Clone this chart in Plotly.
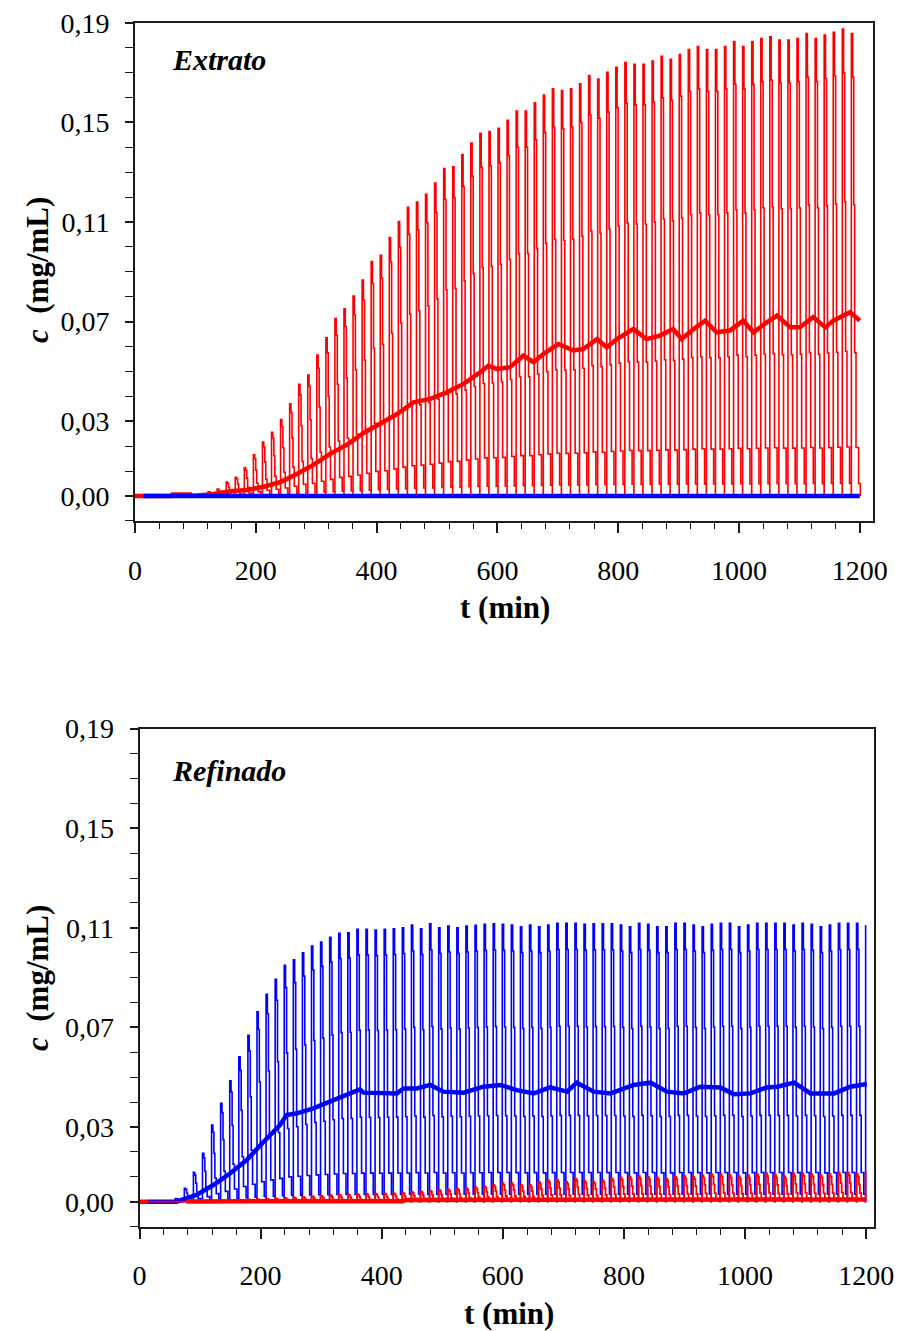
import plotly.graph_objects as go

# ---------------------------------------------------------------------------
# SMB outlet concentration histories (extract / raffinate)
# ---------------------------------------------------------------------------
W, H = 897, 1331

switch_period = 15.0          # min, port switching interval
t_end = 1200.0                # min

# Concentration profile during one switching interval (fraction of the peak)
tooth_offset = [0.0, 2.2, 3.9, 5.5, 7.7, 12.0, 14.9]
tooth_fraction = [1.0, 0.906, 0.63, 0.31, 0.105, 0.027, 0.0]

# --- Extrato: more retained component (red), peak of each interval --------
extrato_first_rise = 106.0
extrato_red_peaks = [
    0.0009, 0.0017, 0.0028, 0.0056, 0.0075, 0.0114, 0.0165, 0.0217, 0.0256,
    0.0307, 0.0370, 0.0448, 0.0486, 0.0566, 0.0635, 0.0712, 0.0751, 0.0803,
    0.0867, 0.0941, 0.0966, 0.1037, 0.1102, 0.1159, 0.1180, 0.1211, 0.1256,
    0.1314, 0.1322, 0.1371, 0.1417, 0.1456, 0.1463, 0.1476, 0.1508, 0.1545,
    0.1545, 0.1578, 0.1610, 0.1635, 0.1628, 0.1635, 0.1655, 0.1688, 0.1674,
    0.1701, 0.1721, 0.1740, 0.1733, 0.1733, 0.1746, 0.1765, 0.1753, 0.1772,
    0.1792, 0.1804, 0.1792, 0.1792, 0.1804, 0.1824, 0.1804, 0.1824, 0.1836,
    0.1843, 0.1830, 0.1830, 0.1836, 0.1856, 0.1836, 0.1850, 0.1861, 0.1875,
    0.1856,
]
# cycle-averaged extract concentration (red)
extrato_mean_t = [
    0, 14, 60, 62, 92, 94, 102, 130, 158, 185, 213, 240, 268, 296, 323, 351,
    378, 406, 434, 461, 489, 516, 544, 572, 585, 599, 621, 643, 660, 676, 701,
    726, 742, 765, 781, 798, 825, 847, 869, 891, 905, 925, 944, 963, 985,
    1007, 1024, 1046, 1063, 1085, 1101, 1123, 1143, 1156, 1184, 1200,
]
extrato_mean_c = [
    0.0, 0.0, 0.0, 0.0006, 0.0006, 0.0, 0.0001, 0.0008, 0.0019, 0.0024,
    0.0037, 0.0055, 0.0088, 0.0126, 0.0169, 0.0206, 0.0252, 0.0289, 0.0329,
    0.0376, 0.0390, 0.0416, 0.0450, 0.0497, 0.0523, 0.0510, 0.0517, 0.0564,
    0.0537, 0.0570, 0.0610, 0.0584, 0.0590, 0.0630, 0.0597, 0.0630, 0.0670,
    0.0630, 0.0644, 0.0670, 0.0630, 0.0670, 0.0704, 0.0657, 0.0664, 0.0704,
    0.0657, 0.0697, 0.0724, 0.0677, 0.0677, 0.0718, 0.0677, 0.0704, 0.0738,
    0.0704,
]
# less retained component in the extract (blue)
extrato_blue_t = [14, 1200]
extrato_blue_c = [0.0, 0.0]

# --- Refinado: less retained component (blue) ------------------------------
refinado_first_rise = 59.0
refinado_blue_peaks = [
    0.0013, 0.0054, 0.0118, 0.0194, 0.0308, 0.0395, 0.0486, 0.0582, 0.0668,
    0.0763, 0.0833, 0.0893, 0.0949, 0.0971, 0.1000, 0.1027, 0.1043, 0.1062,
    0.1078, 0.1080, 0.1094, 0.1094, 0.1091, 0.1094, 0.1096, 0.1100, 0.1111,
    0.1096, 0.1116, 0.1100, 0.1107, 0.1100, 0.1107, 0.1110, 0.1114, 0.1116,
    0.1114, 0.1111, 0.1104, 0.1111, 0.1104, 0.1111, 0.1118, 0.1118, 0.1118,
    0.1114, 0.1116, 0.1116, 0.1116, 0.1111, 0.1104, 0.1118, 0.1114, 0.1104,
    0.1104, 0.1118, 0.1118, 0.1111, 0.1104, 0.1114, 0.1118, 0.1118, 0.1104,
    0.1111, 0.1118, 0.1118, 0.1118, 0.1118, 0.1111, 0.1118, 0.1114, 0.1104,
    0.1111, 0.1118, 0.1118, 0.1118, 0.1111,
]
refinado_mean_t = [
    14, 61, 94, 122, 150, 177, 205, 232, 243, 260, 287, 315, 342, 364, 370,
    397, 425, 436, 458, 480, 502, 535, 568, 596, 623, 651, 678, 706, 722, 750,
    778, 816, 844, 871, 899, 926, 959, 981, 1009, 1036, 1053, 1081, 1108,
    1147, 1174, 1201,
]
refinado_mean_c = [
    0.0, 0.0, 0.0027, 0.0067, 0.0114, 0.0167, 0.0241, 0.0308, 0.0348, 0.0355,
    0.0375, 0.0402, 0.0431, 0.0451, 0.0438, 0.0435, 0.0435, 0.0455, 0.0455,
    0.0469, 0.0442, 0.0438, 0.0462, 0.0469, 0.0448, 0.0435, 0.0459, 0.0442,
    0.0478, 0.0442, 0.0435, 0.0469, 0.0478, 0.0442, 0.0435, 0.0462, 0.0459,
    0.0432, 0.0435, 0.0459, 0.0462, 0.0478, 0.0435, 0.0435, 0.0462, 0.0473,
]
# more retained component leaking into the raffinate (red)
refinado_red_peaks = [
    0.0, 0.0, 0.0002, 0.0003, 0.0004, 0.0005, 0.0006, 0.0008, 0.0009, 0.0010,
    0.0012, 0.0013, 0.0015, 0.0017, 0.0019, 0.0022, 0.0024, 0.0027, 0.0028,
    0.0029, 0.0030, 0.0031, 0.0032, 0.0033, 0.0033, 0.0036, 0.0039, 0.0041,
    0.0044, 0.0047, 0.0049, 0.0052, 0.0054, 0.0058, 0.0062, 0.0067, 0.0074,
    0.0074, 0.0067, 0.0067, 0.0080, 0.0087, 0.0087, 0.0080, 0.0094, 0.0084,
    0.0080, 0.0087, 0.0094, 0.0098, 0.0100, 0.0103, 0.0100, 0.0098, 0.0094,
    0.0100, 0.0103, 0.0100, 0.0107, 0.0111, 0.0111, 0.0107, 0.0103, 0.0107,
    0.0111, 0.0114, 0.0107, 0.0103, 0.0114, 0.0114, 0.0111, 0.0107, 0.0111,
    0.0118, 0.0118, 0.0111, 0.0124,
]
refinado_red_base_t = [0, 14, None, 77, 435, 440, 1200]
refinado_red_base_c = [0.0, 0.0, None, 0.0001, 0.0002, 0.0007, 0.0009]

# --- axes ------------------------------------------------------------------
x_tick_vals = [0, 200, 400, 600, 800, 1000, 1200]
x_minor_vals = [t for t in range(40, 1201, 40) if t % 200]
y_tick_vals = [0.00, 0.03, 0.07, 0.11, 0.15, 0.19]
y_tick_text = ["0,00", "0,03", "0,07", "0,11", "0,15", "0,19"]
y_minor_vals = [round(-0.01 + 0.01 * i, 2) for i in range(21)]
y_minor_vals = [v for v in y_minor_vals if v not in y_tick_vals]

RED = "#FF0000"
BLUE = "#0000FF"
AXC = "#1a1a1a"
FONT = "Times New Roman, Liberation Serif, serif"


def switching_history(first_rise, peaks):
    """Concentration vs time, one tooth per switching interval."""
    t, c = [0.0], [0.0]
    for k, peak in enumerate(peaks):
        t0 = first_rise + k * switch_period
        for off, frac in zip(tooth_offset, tooth_fraction):
            tt = t0 + off
            if tt > t_end + 1:
                break
            t.append(tt)
            c.append(peak * frac)
    return t, c


def px(x):
    return x / W


def py(y):
    return 1 - y / H


fig = go.Figure()

# top panel: Extrato
t, c = switching_history(extrato_first_rise, extrato_red_peaks)
fig.add_trace(go.Scatter(x=t, y=c, mode="lines", line=dict(color=RED, width=1.6, shape="hv"),
                         xaxis="x", yaxis="y", showlegend=False))
fig.add_trace(go.Scatter(x=extrato_mean_t, y=extrato_mean_c, mode="lines",
                         line=dict(color=RED, width=4.5), xaxis="x", yaxis="y", showlegend=False))
fig.add_trace(go.Scatter(x=extrato_blue_t, y=extrato_blue_c, mode="lines",
                         line=dict(color=BLUE, width=4.5), xaxis="x", yaxis="y", showlegend=False))

# bottom panel: Refinado
t, c = switching_history(refinado_first_rise, refinado_blue_peaks)
fig.add_trace(go.Scatter(x=t, y=c, mode="lines", line=dict(color=BLUE, width=1.6, shape="hv"),
                         xaxis="x2", yaxis="y2", showlegend=False))
fig.add_trace(go.Scatter(x=refinado_mean_t, y=refinado_mean_c, mode="lines",
                         line=dict(color=BLUE, width=4.5), xaxis="x2", yaxis="y2", showlegend=False))
t, c = switching_history(refinado_first_rise, refinado_red_peaks)
fig.add_trace(go.Scatter(x=t, y=c, mode="lines", line=dict(color=RED, width=1.8, shape="hv"),
                         xaxis="x2", yaxis="y2", showlegend=False))
fig.add_trace(go.Scatter(x=refinado_red_base_t, y=refinado_red_base_c, mode="lines",
                         line=dict(color=RED, width=4.5), connectgaps=False,
                         xaxis="x2", yaxis="y2", showlegend=False))

tickfont = dict(family=FONT, size=28, color="black")


def xaxis_cfg(left, right, xmax):
    return dict(
        domain=[px(left), px(right)], range=[0, xmax],
        tickmode="array", tickvals=x_tick_vals,
        ticks="outside", ticklen=10, tickwidth=1.5, tickcolor=AXC,
        minor=dict(tickmode="array", tickvals=x_minor_vals, ticks="outside",
                   ticklen=6, tickwidth=1.3, tickcolor=AXC, showgrid=False),
        showline=True, linewidth=2, linecolor=AXC, mirror=True,
        showgrid=False, zeroline=False, tickfont=tickfont,
        ticklabelstandoff=13, automargin=False, fixedrange=True,
    )


def yaxis_cfg(top, bottom):
    return dict(
        domain=[py(bottom), py(top)], range=[-0.01, 0.19],
        tickmode="array", tickvals=y_tick_vals, ticktext=y_tick_text,
        ticks="outside", ticklen=8, tickwidth=1.5, tickcolor=AXC,
        minor=dict(tickmode="array", tickvals=y_minor_vals, ticks="outside",
                   ticklen=8, tickwidth=1.3, tickcolor=AXC, showgrid=False),
        showline=True, linewidth=2, linecolor=AXC, mirror=True,
        showgrid=False, zeroline=False, tickfont=tickfont,
        ticklabelstandoff=10, automargin=False, fixedrange=True,
    )


xa1 = xaxis_cfg(135, 872.5, 1221)
xa2 = xaxis_cfg(139.5, 873.5, 1212)
xa2["anchor"] = "y2"
ya1 = yaxis_cfg(22.7, 520.9)
ya2 = yaxis_cfg(728.6, 1226.6)
ya2["anchor"] = "x2"

title_font = dict(family=FONT, size=31, color="black")
label_font = dict(family=FONT, size=30, color="black")

annotations = [
    dict(text="<b><i>Extrato</i></b>", x=px(170), y=py(60), xanchor="left", yanchor="middle",
         font=label_font),
    dict(text="<b><i>Refinado</i></b>", x=px(170), y=py(770), xanchor="left", yanchor="middle",
         font=label_font),
    dict(text="<b><i>c</i>  (mg/mL)</b>", x=px(38), y=py(270), textangle=-90,
         xanchor="center", yanchor="middle", font=title_font),
    dict(text="<b><i>c</i>  (mg/mL)</b>", x=px(38), y=py(978), textangle=-90,
         xanchor="center", yanchor="middle", font=title_font),
    dict(text="<b>t (min)</b>", x=px(505), y=py(607), xanchor="center", yanchor="middle",
         font=title_font),
    dict(text="<b>t (min)</b>", x=px(509), y=py(1313), xanchor="center", yanchor="middle",
         font=title_font),
]
for a in annotations:
    a.update(xref="paper", yref="paper", showarrow=False)

fig.update_layout(
    width=W, height=H,
    margin=dict(l=0, r=0, t=0, b=0),
    paper_bgcolor="white", plot_bgcolor="white",
    xaxis=xa1, yaxis=ya1, xaxis2=xa2, yaxis2=ya2,
    annotations=annotations,
    showlegend=False,
)

fig.write_html("out.html", config={"displayModeBar": False})
